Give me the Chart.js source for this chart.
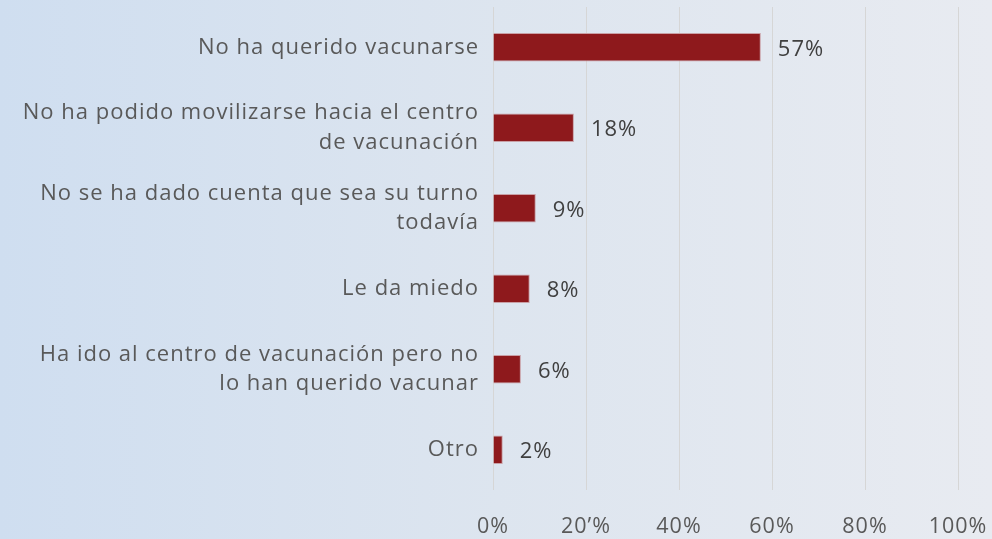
<!DOCTYPE html>
<html>
<head>
<meta charset="utf-8">
<script src="https://cdn.jsdelivr.net/npm/chart.js@4"></script>
<style>
  html, body { margin: 0; padding: 0; }
  body {
    width: 992px; height: 539px; overflow: hidden;
    background: linear-gradient(to right, #cfdef0 0%, #dde5ef 50%, #e8ebf1 100%);
  }
  #wrap { width: 992px; height: 539px; position: relative; }
</style>
</head>
<body>
<div id="wrap"><canvas id="myChart"></canvas></div>
<script>
// data
var categories = [
  ['No ha querido vacunarse'],
  ['No ha podido movilizarse hacia el centro', 'de vacunación'],
  ['No se ha dado cuenta que sea su turno', 'todavía'],
  ['Le da miedo'],
  ['Ha ido al centro de vacunación pero no', 'lo han querido vacunar'],
  ['Otro']
];
var values      = [57.6, 17.4, 9.2, 7.9, 6.0, 2.1];
var valueLabels = ['57%', '18%', '9%', '8%', '6%', '2%'];
var tickValues  = [0, 20, 40, 60, 80, 100];
var tickLabels  = ['0%', '20’%', '40%', '60%', '80%', '100%'];

// ── wider letter spacing, like the original ─────────────────────────────────
var spacingPlugin = {
  id: 'spacing',
  beforeDraw: function (chart) { chart.ctx.letterSpacing = '1px'; },
  afterDraw: function (chart) { chart.ctx.letterSpacing = '0px'; }
};

// ── value labels next to bars ────────────────────────────────────────────────
var valueLabelPlugin = {
  id: 'valueLabels',
  afterDatasetsDraw: function (chart) {
    var ctx = chart.ctx;
    var meta = chart.getDatasetMeta(0);
    ctx.save();
    ctx.font = '22px "Open Sans"';
    ctx.fillStyle = '#404040';
    ctx.textAlign = 'left';
    ctx.textBaseline = 'middle';
    for (var i = 0; i < meta.data.length; i++) {
      var bar = meta.data[i];
      ctx.fillText(valueLabels[i], bar.x + 17, bar.y + 2);
    }
    ctx.restore();
  }
};

var ctx = document.getElementById('myChart').getContext('2d');
var myChart = new Chart(ctx, {
  type: 'bar',
  data: {
    labels: categories,
    datasets: [{
      data: values,
      backgroundColor: '#8e191c',
      borderColor: '#c9a0a6',
      borderWidth: 1,
      categoryPercentage: 1,
      barPercentage: 0.355
    }]
  },
  options: {
    indexAxis: 'y',
    responsive: true,
    maintainAspectRatio: false,
    animation: false,
    layout: { padding: { top: 7, right: 34, left: 0, bottom: 0 } },
    plugins: {
      legend: { display: false },
      tooltip: { enabled: false }
    },
    scales: {
      x: {
        min: 0, max: 100,
        afterBuildTicks: function (scale) {
          scale.ticks = tickValues.map(function (v) { return { value: v }; });
        },
        afterFit: function (scale) {
          scale.height = 49;
          scale.paddingLeft = 0; scale.paddingRight = 0;
        },
        grid: { color: '#d6d6d6', lineWidth: 1, drawTicks: false },
        border: { display: false },
        ticks: {
          padding: 24,
          color: '#595959',
          font: { family: 'Open Sans', size: 21.5 },
          maxRotation: 0,
          callback: function (v, i) { return tickLabels[i]; }
        }
      },
      y: {
        afterFit: function (scale) {
          scale.width = 493;
          scale.paddingTop = 0; scale.paddingBottom = 0;
        },
        grid: { display: false, drawTicks: false },
        border: { display: false },
        ticks: {
          padding: 14,
          color: '#595959',
          font: { family: 'Open Sans', size: 22, lineHeight: 1.36 }
        }
      }
    }
  },
  plugins: [spacingPlugin, valueLabelPlugin]
});
</script>
</body>
</html>
